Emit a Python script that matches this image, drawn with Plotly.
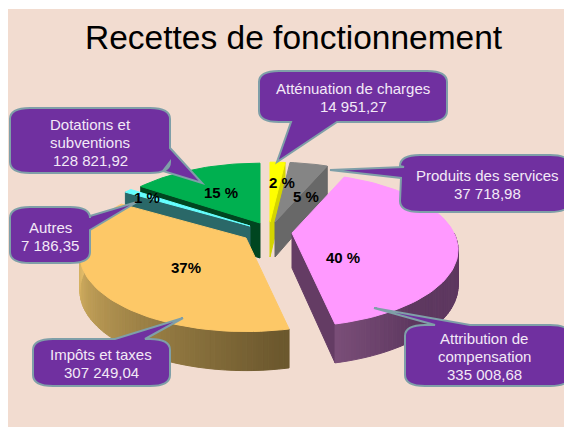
import math
import plotly.graph_objects as go

# ---- data (clockwise from 12 o'clock)
categories = ["Atténuation de charges", "Produits des services", "Attribution de compensation",
              "Impôts et taxes", "Autres", "Dotations et subventions"]
values = [14951.27, 37718.98, 335008.68, 307249.04, 7186.35, 128821.92]
percent_labels = ["2 %", "5 %", "40 %", "37%", "1 %", "15 %"]
value_labels = ["14 951,27", "37 718,98", "335 008,68", "307 249,04", "7 186,35", "128 821,92"]
callout_lines = [["Atténuation de charges"], ["Produits des services"], ["Attribution de", "compensation"],
                 ["Impôts et taxes"], ["Autres"], ["Dotations et", "subventions"]]

# ---- layout / style (screen pixels)
W, H = 564, 428
BG = "#F2DCD0"
A, B, K = 162, 73, 0.22
LINE = 18
apex = [(270, 222), (275, 222), (292, 233), (246, 238), (250, 226), (260, 223)]
top_col = ["#FFFF00", "#858585", "#FF99FF", "#FDC867", "#66FFFF", "#00B050"]
wall_from = [(212, 212, 0), (104, 104, 104), (122, 78, 120), (226, 188, 104), (42, 104, 104), (0, 70, 32)]
wall_to = [(212, 212, 0), (104, 104, 104), (94, 56, 96), (108, 88, 46), (42, 104, 104), (0, 70, 32)]
wall_radial = [(212, 212, 0), (104, 104, 104), (100, 60, 100), (0, 0, 0), (42, 104, 104), (0, 70, 32)]
radial_side = ["end", "end", "end", None, "start", "start"]
draw_order = [5, 4, 0, 1, 2, 3]
pct_pos = [(282, 182), (306, 196), (343, 257), (186, 267), (147, 197), (221, 192)]
# box x0,x1,y0,y1, tail base a, tail base b, tail tip, text centre
callouts = [
    (259, 447, 71, 122, (291, 122), (337, 122), (277, 162), (353, 97)),
    (400, 570, 155, 212, (404, 167), (401, 178), (330, 170), (487, 184)),
    (405, 570, 325, 386, (470, 325), (435, 325), (374, 308), (484, 356)),
    (33, 170, 339, 386, (115, 339), (145, 339), (183, 318), (101, 363)),
    (10, 90, 207, 263, (90, 216), (90, 230), (137, 202), (50, 236)),
    (10, 170, 108, 173, (170, 148), (163, 171), (202, 183), (90, 142)),
]


def rim(t, ap):
    u, v = math.sin(t), -math.cos(t)
    s = 1 / (1 - K * v)
    return ap[0] + A * u * s, ap[1] + B * v * s, v


def depth(v):
    return 35 + 4 * v


def rgb(c):
    return "rgb(%d,%d,%d)" % tuple(round(x) for x in c)


def poly(fig, xs, ys, col):
    fig.add_trace(go.Scatter(x=xs + xs[:1], y=ys + ys[:1], mode="lines", fill="toself",
                             fillcolor=col, line=dict(color=col, width=1),
                             hoverinfo="skip", showlegend=False))


def steps(t0, t1, step):
    n = max(2, int(abs(t1 - t0) / step) + 1)
    return [t0 + (t1 - t0) * i / n for i in range(n + 1)]


fig = go.Figure()
total = sum(values)
bounds = [0.0]
for val in values:
    bounds.append(bounds[-1] + val / total * 2 * math.pi)

for i in draw_order:
    t0, t1, ap = bounds[i], bounds[i + 1], apex[i]
    # radial wall
    if radial_side[i]:
        t = t1 if radial_side[i] == "end" else t0
        rx, ry, v = rim(t, ap)
        poly(fig, [ap[0], rx, rx, ap[0]], [ap[1], ry, ry + depth(v), ap[1] + 35], rgb(wall_radial[i]))
    # outer wall (front half only) with shading by angle
    a0, a1 = max(t0, math.pi / 2), min(t1, 3 * math.pi / 2)
    if a1 > a0:
        ts = steps(a0, a1, math.radians(1.5))
        for p, q in zip(ts[:-1], ts[1:]):
            x0, y0, v0 = rim(p, ap)
            x1, y1, v1 = rim(q, ap)
            mid = (p + q) / 2
            if i == 2:
                frac = min(1, (t1 - mid) / math.radians(25))
            else:
                frac = min(1, max(0, (1.5 * math.pi - mid) / (0.55 * math.pi)))
            col = [wall_from[i][c] + (wall_to[i][c] - wall_from[i][c]) * frac for c in range(3)]
            poly(fig, [x0, x1, x1, x0], [y0, y1, y1 + depth(v1), y0 + depth(v0)], rgb(col))
    # top face
    ts = steps(t0, t1, math.radians(2))
    pts = [rim(t, ap) for t in ts]
    poly(fig, [ap[0]] + [p[0] for p in pts], [ap[1]] + [p[1] for p in pts], top_col[i])


def callout_path(x0, x1, y0, y1, a, b, tip):
    rx, ry = 20, 11
    d = f"M{x0 + rx},{y0} "

    def tail(s):
        return f"L{s[0][0]},{s[0][1]} L{tip[0]},{tip[1]} L{s[1][0]},{s[1][1]} "

    mx, my = (a[0] + b[0]) / 2, (a[1] + b[1]) / 2
    if my <= y0 + 1:
        d += tail(sorted([a, b], key=lambda p: p[0]))
    d += f"L{x1 - rx},{y0} Q{x1},{y0} {x1},{y0 + ry} "
    if mx >= x1 - 12 and y0 < my < y1:
        d += tail(sorted([a, b], key=lambda p: p[1]))
    d += f"L{x1},{y1 - ry} Q{x1},{y1} {x1 - rx},{y1} "
    if my >= y1 - 1:
        d += tail(sorted([a, b], key=lambda p: -p[0]))
    d += f"L{x0 + rx},{y1} Q{x0},{y1} {x0},{y1 - ry} "
    if mx <= x0 + 12 and y0 < my < y1:
        d += tail(sorted([a, b], key=lambda p: -p[1]))
    d += f"L{x0},{y0 + ry} Q{x0},{y0} {x0 + rx},{y0} Z"
    return d


shapes = [dict(type="rect", xref="x", yref="y", x0=8, x1=W, y0=9, y1=427, layer="below",
               fillcolor=BG, line=dict(width=0))]
annotations = [dict(x=294, y=37, text="Recettes de fonctionnement", showarrow=False,
                    font=dict(family="Liberation Sans", size=33.5, color="#000000"))]
for i, (x0, x1, y0, y1, a, b, tip, c) in enumerate(callouts):
    shapes.append(dict(type="path", xref="x", yref="y", path=callout_path(x0, x1, y0, y1, a, b, tip),
                       fillcolor="#7030A0", line=dict(color="#7F9FA8", width=2), layer="above"))
    lines = callout_lines[i] + [value_labels[i]]
    for j, text in enumerate(lines):
        annotations.append(dict(x=c[0], y=c[1] + (j - (len(lines) - 1) / 2) * LINE, text=text, showarrow=False,
                                font=dict(family="Liberation Sans", size=15, color="#F3E9F7")))
for lab, pos in zip(percent_labels, pct_pos):
    annotations.append(dict(x=pos[0], y=pos[1], text=f"<b>{lab}</b>", showarrow=False,
                            font=dict(family="Liberation Sans", size=15, color="#000000")))

fig.update_layout(width=W, height=H, margin=dict(l=0, r=0, t=0, b=0), autosize=False,
                  paper_bgcolor="white", plot_bgcolor="white", showlegend=False,
                  xaxis=dict(range=[0, W], visible=False, fixedrange=True),
                  yaxis=dict(range=[H, 0], visible=False, fixedrange=True),
                  shapes=shapes, annotations=annotations)
fig.write_html("out.html", config=dict(displayModeBar=False),
               post_script="document.body.style.margin='0';document.documentElement.style.overflow='hidden';")
